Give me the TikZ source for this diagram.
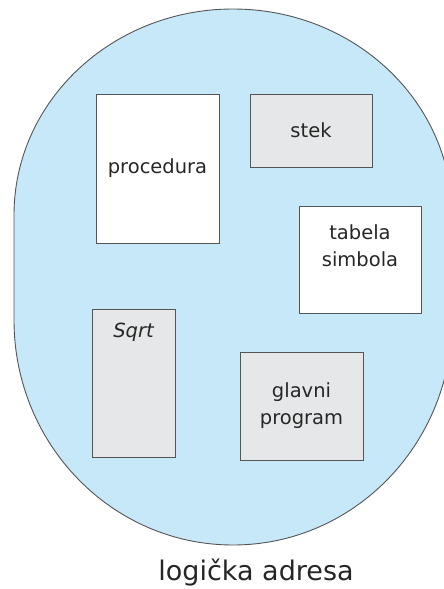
\documentclass[tikz,border=0pt]{standalone}
\usepackage{fontspec}
\setmainfont{DejaVu Sans}
\usepackage{xcolor}
\usepackage{tikz}
\usetikzlibrary{positioning}

\definecolor{segblue}{HTML}{C6E8F8}
\definecolor{seggray}{HTML}{E6E7E8}
\definecolor{segline}{HTML}{555555}
\tikzset{
  seg/.style={draw=segline, line width=0.9pt, fill=white, inner sep=0pt,
    align=center, text=black!85, font=\fontsize{19.5}{27}\selectfont},
  seggr/.style={seg, fill=seggray}
}

\begin{document}
\begin{tikzpicture}[x=1pt,y=-1pt]
    \useasboundingbox (0,0) rectangle (444,589);
    \clip (0,0) rectangle (444,589);
    % logical address space
    \draw[draw=segline, line width=0.9pt, fill=segblue] (14,320) -- (14,215)
        arc[start angle=180, end angle=0, x radius=219pt, y radius=206pt] -- (452,320)
        arc[start angle=0, end angle=-180, x radius=219pt, y radius=225pt] -- cycle;

    \node(proc)[seg, minimum width=123, minimum height=149] at (157.5,168.5) {procedura};
    \node(stek)[seggr, minimum width=122, minimum height=73] at (311,130.5) {stek};
    \node(tab)[seg, minimum width=122, minimum height=107] at (360,259.5) {};
    \node(tabtxt)[seg, draw=none, fill=none, anchor=north] at ([yshift=-19]tab.north) {tabela\\simbola};
    \node(sqrt)[seggr, minimum width=83, minimum height=148] at (133.5,383) {};
    \node(sqrttxt)[seg, draw=none, fill=none, anchor=north, font=\fontsize{19.5}{27}\selectfont\itshape] at ([yshift=-14]sqrt.north) {Sqrt};
    \node(glavni)[seggr, minimum width=123, minimum height=108] at (301.5,406) {glavni\\program};

    \node(adr)[text=black!85, font=\fontsize{27}{32}\selectfont] at (256,573) {logička adresa};
\end{tikzpicture}
\end{document}
